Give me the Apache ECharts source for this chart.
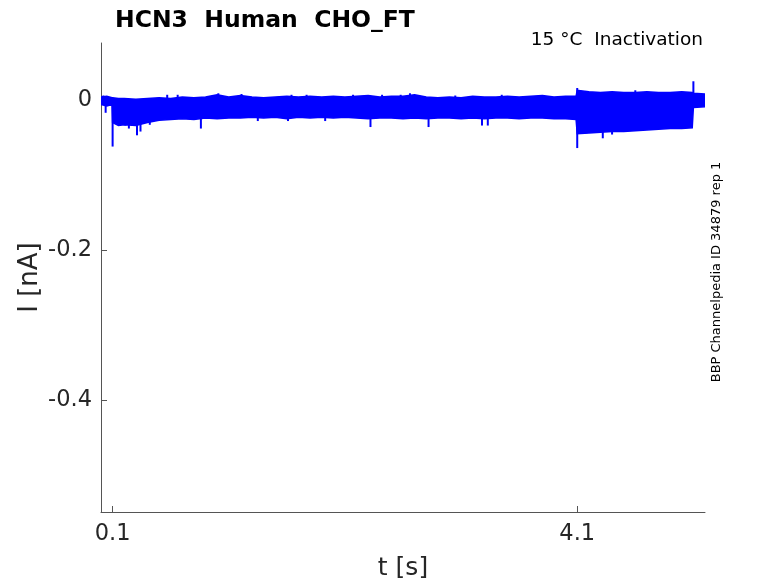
<!DOCTYPE html>
<html>
<head>
<meta charset="utf-8">
<title>HCN3 Human CHO_FT</title>
<script src="https://cdn.jsdelivr.net/npm/echarts@6.0.0/dist/echarts.min.js"></script>
<style>
  html, body { margin: 0; padding: 0; background: #fff; }
  #main { width: 778px; height: 583px; }
</style>
</head>
<body>
<div id="main"></div>
<script>
// envelope of the overlaid current traces (nA) vs time (s)
var tEnv = [0, 0.05, 0.095, 0.1, 0.15, 0.2, 0.3, 0.4, 0.5, 0.6, 0.7, 0.8, 0.9,
    1.0, 1.1, 1.2, 1.3, 1.4, 1.5, 1.6, 1.7, 1.8, 1.9, 2.0, 2.1, 2.2, 2.3, 2.4,
    2.5, 2.6, 2.7, 2.8, 2.9, 3.0, 3.1, 3.2, 3.3, 3.4, 3.5, 3.6, 3.7, 3.8, 3.9,
    4.0, 4.09, 4.1, 4.2, 4.3, 4.4, 4.5, 4.6, 4.7, 4.8, 4.9, 5.0, 5.09, 5.1, 5.2];
var iTop = [0.004, 0.005, 0.003, 0.003, 0.002, 0.002, 0.001, 0.002, 0.003, 0.002, 0.004, 0.003, 0.004,
    0.007, 0.004, 0.006, 0.004, 0.003, 0.004, 0.005, 0.004, 0.005, 0.004, 0.005, 0.004, 0.005, 0.006, 0.004,
    0.005, 0.005, 0.007, 0.004, 0.003, 0.004, 0.003, 0.005, 0.004, 0.004, 0.005, 0.004, 0.005, 0.006, 0.004,
    0.005, 0.005, 0.013, 0.011, 0.010, 0.011, 0.010, 0.010, 0.011, 0.010, 0.010, 0.011, 0.010, 0.009, 0.008];
var iBot = [-0.006, -0.008, -0.006, -0.030, -0.034, -0.033, -0.034, -0.030, -0.027, -0.026, -0.025, -0.026, -0.024,
    -0.025, -0.024, -0.024, -0.023, -0.024, -0.023, -0.025, -0.023, -0.024, -0.023, -0.024, -0.023, -0.024, -0.025, -0.024,
    -0.024, -0.025, -0.024, -0.025, -0.024, -0.024, -0.025, -0.024, -0.025, -0.024, -0.024, -0.025, -0.024, -0.024, -0.025,
    -0.025, -0.026, -0.045, -0.044, -0.043, -0.042, -0.042, -0.041, -0.040, -0.039, -0.038, -0.038, -0.037, -0.010, -0.009];

// isolated spikes sticking out of the band
var spikeT = [0.04, 0.1, 0.21, 0.24, 0.31, 0.34, 0.42, 0.86, 1.35, 1.61, 1.93, 2.32, 2.82, 3.28, 3.33, 4.1, 4.32, 4.4,
    0.02, 0.57, 0.66, 1.01, 1.21, 1.64, 1.77, 2.17, 2.42, 2.58, 2.66, 3.05, 3.45, 4.1, 4.6, 5.1];
var spikeI = [-0.017, -0.062, -0.034, -0.038, -0.047, -0.042, -0.033, -0.038, -0.028, -0.028, -0.028, -0.036, -0.036, -0.034, -0.034, -0.064, -0.051, -0.046,
    0.006, 0.007, 0.007, 0.009, 0.008, 0.007, 0.007, 0.007, 0.007, 0.007, 0.009, 0.006, 0.007, 0.016, 0.013, 0.025];

var xTicks = [0.1, 4.1];
var yTicks = [0, -0.2, -0.4];

var chart = echarts.init(document.getElementById('main'));

var spikes = [];
for (var k = 0; k < spikeT.length; k++) {
    spikes.push([spikeT[k], spikeI[k]]);
}

var axisColor = '#555555';
var textColor = '#262626';
var fontFam = 'DejaVu Sans';

var option = {
    animation: false,
    backgroundColor: '#ffffff',
    title: {
        text: 'HCN3  Human  CHO_FT',
        left: 110,
        top: 4,
        textStyle: { fontFamily: fontFam, fontSize: 23.5, fontWeight: 'bold', color: '#000' }
    },
    grid: { left: 101, right: 73, top: 43, bottom: 71, outerBoundsMode: 'none' },
    xAxis: {
        type: 'value',
        min: 0,
        max: 5.2,
        name: 't [s]',
        nameLocation: 'middle',
        nameGap: 44,
        nameMoveOverlap: false,
        nameTextStyle: { fontFamily: fontFam, fontSize: 25, color: textColor },
        axisLine: { onZero: false, lineStyle: { color: axisColor, width: 1 } },
        axisTick: { inside: true, length: 6, customValues: xTicks, lineStyle: { color: axisColor } },
        axisLabel: { customValues: xTicks, margin: 11, fontFamily: fontFam, fontSize: 22.5, color: textColor },
        splitLine: { show: false }
    },
    yAxis: {
        type: 'value',
        min: -0.549,
        max: 0.076,
        name: 'I [nA]',
        nameLocation: 'middle',
        nameGap: 58,
        nameMoveOverlap: false,
        nameTextStyle: { fontFamily: fontFam, fontSize: 26, color: textColor },
        axisLine: { show: true, onZero: false, lineStyle: { color: axisColor, width: 1 } },
        axisTick: { show: true, inside: true, length: 6, customValues: yTicks, lineStyle: { color: axisColor } },
        axisLabel: { customValues: yTicks, margin: 9, fontFamily: fontFam, fontSize: 22.5, color: textColor },
        splitLine: { show: false }
    },
    graphic: [
        {
            type: 'text',
            right: 75,
            top: 31,
            style: { text: '15 °C  Inactivation', font: '18.5px "DejaVu Sans"', fill: '#000' }
        },
        {
            type: 'text',
            x: 717,
            y: 272,
            rotation: Math.PI / 2,
            style: {
                text: 'BBP Channelpedia ID 34879 rep 1',
                font: '13px "DejaVu Sans"',
                fill: '#000',
                align: 'center',
                verticalAlign: 'middle'
            }
        }
    ],
    series: [
        {
            // band of overlaid sweeps
            type: 'custom',
            clip: true,
            data: [[0, 0]],
            renderItem: function (params, api) {
                var pts = [];
                for (var i = 0; i < tEnv.length; i++) {
                    pts.push(api.coord([tEnv[i], iTop[i]]));
                }
                for (var j = tEnv.length - 1; j >= 0; j--) {
                    pts.push(api.coord([tEnv[j], iBot[j]]));
                }
                return {
                    type: 'polygon',
                    shape: { points: pts },
                    style: { fill: '#0000ff', stroke: '#0000ff', lineWidth: 1.5 }
                };
            }
        },
        {
            type: 'custom',
            clip: true,
            data: spikes,
            renderItem: function (params, api) {
                var a = api.coord([api.value(0), 0]);
                var b = api.coord([api.value(0), api.value(1)]);
                return {
                    type: 'line',
                    shape: { x1: a[0], y1: a[1], x2: b[0], y2: b[1] },
                    style: { stroke: '#0000ff', lineWidth: 2 }
                };
            }
        }
    ]
};

chart.setOption(option);
</script>
</body>
</html>
